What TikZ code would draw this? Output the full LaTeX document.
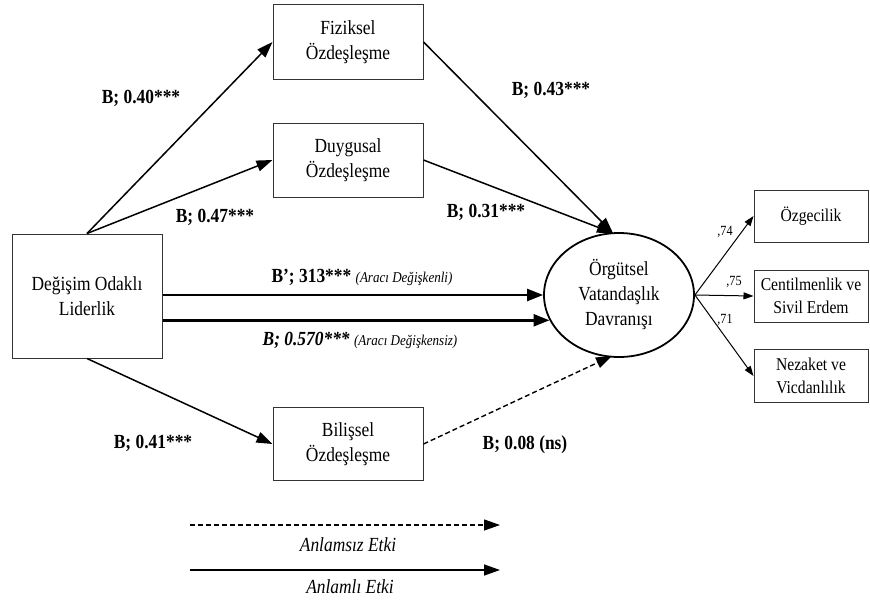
\documentclass[tikz,border=0pt]{standalone}
\usepackage{fontspec}
\setmainfont[FakeStretch=0.87]{Liberation Serif}
\usetikzlibrary{arrows.meta,shapes.geometric}
\begin{document}
\begin{tikzpicture}[x=1pt,y=-1pt,
  boxnode/.style={draw=black!80,line width=1pt,rectangle,align=center,inner sep=0pt,
    font=\fontsize{20}{25}\selectfont},
  lab/.style={font=\fontsize{20}{22}\selectfont\bfseries,inner sep=0pt},
  small/.style={font=\fontsize{14}{16}\selectfont,inner sep=0pt},
  arr/.style={line width=1.5pt,-{Triangle[length=16pt,width=11pt]}},
  thickarr/.style={line width=2.4pt,-{Triangle[length=16pt,width=12pt]}},
  thinarr/.style={line width=1pt,-{Triangle[length=10pt,width=7pt]}}]
\useasboundingbox (0,0) rectangle (870,603);
\node[boxnode,minimum width=150pt,minimum height=75pt] (fiz) at (348,42) {Fiziksel\\Özdeşleşme};
\node[boxnode,minimum width=150pt,minimum height=74pt] (duy) at (348,160) {Duygusal\\Özdeşleşme};
\node[boxnode,minimum width=150pt,minimum height=124pt] (dol) at (87,296) {Değişim Odaklı\\Liderlik};
\node[boxnode,minimum width=150pt,minimum height=73pt] (bil) at (348,444) {Bilişsel\\Özdeşleşme};
\node[draw,ellipse,line width=1.8pt,minimum width=150pt,minimum height=124pt,inner sep=0pt,align=center,
  font=\fontsize{20}{25}\selectfont] (ell) at (619,295) {Örgütsel\\Vatandaşlık\\Davranışı};
\node[boxnode,minimum width=114pt,minimum height=52pt,font=\fontsize{18}{23}\selectfont] (ozg) at (811,216) {Özgecilik};
\node[boxnode,minimum width=114pt,minimum height=52pt,font=\fontsize{18}{23}\selectfont] (cen) at (811,296) {Centilmenlik ve\\Sivil Erdem};
\node[boxnode,minimum width=114pt,minimum height=53pt,font=\fontsize{18}{23}\selectfont] (nez) at (811,376) {Nezaket ve\\Vicdanlılık};

\coordinate (etop) at ([xshift=-6pt,yshift=-1pt]ell.north);
\coordinate (ebot) at ([xshift=-7pt,yshift=2pt]ell.south);

\draw[arr] (dol.north) -- (fiz.west);
\draw[arr] (dol.north) -- (duy.west);
\draw[arr] (dol.south) -- (bil.west);
\draw[arr] (fiz.east) -- (etop);
\draw[arr] (duy.east) -- (etop);
\draw[arr,dashed,dash pattern=on 5pt off 3pt,line width=1.4pt] (bil.east) -- (ebot);
\draw[thickarr] (dol.east |- ell.west) -- (ell.west);
\draw[thickarr] (dol.east |- ell.200.9) -- (ell.200.9);
\draw[thinarr] (ell.east) -- (ozg.west);
\draw[thinarr] (ell.east) -- (cen.west);
\draw[thinarr] (ell.east) -- (nez.west);

\node[lab] (l1) at (141,98) {B; 0.40***};
\node[lab] (l2) at (215,217) {B; 0.47***};
\node[lab] (l3) at (551,90) {B; 0.43***};
\node[lab] (l4) at (486,212) {B; 0.31***};
\node[lab] (l5) at (153,443) {B; 0.41***};
\node[lab] (l6) at (525,445) {B; 0.08 (ns)};
\node[inner sep=0pt] (l7) at (362,277) {\fontsize{20}{22}\selectfont\bfseries B’; 313*** {\fontsize{15}{17}\selectfont\mdseries\itshape (Aracı Değişkenli)}};
\node[inner sep=0pt] (l8) at (360,340) {\fontsize{20}{22}\selectfont\bfseries\itshape B; 0.570*** {\fontsize{15}{17}\selectfont\mdseries\itshape (Aracı Değişkensiz)}};
\node[small] (k1) at (725,232) {,74};
\node[small] (k2) at (734,282) {,75};
\node[small] (k3) at (725,320) {,71};

\coordinate (d1) at (190,525);
\coordinate (d2) at (500,525);
\coordinate (s1) at (190,570);
\coordinate (s2) at (500,570);
\draw[arr,dashed,dash pattern=on 5pt off 3pt,line width=1.3pt] (d1) -- (d2);
\draw[arr,line width=1.5pt] (s1) -- (s2);
\node[font=\fontsize{20}{22}\selectfont\itshape,inner sep=0pt] (t1) at (348,545) {Anlamsız Etki};
\node[font=\fontsize{20}{22}\selectfont\itshape,inner sep=0pt] (t2) at (350,587) {Anlamlı Etki};
\end{tikzpicture}
\end{document}
